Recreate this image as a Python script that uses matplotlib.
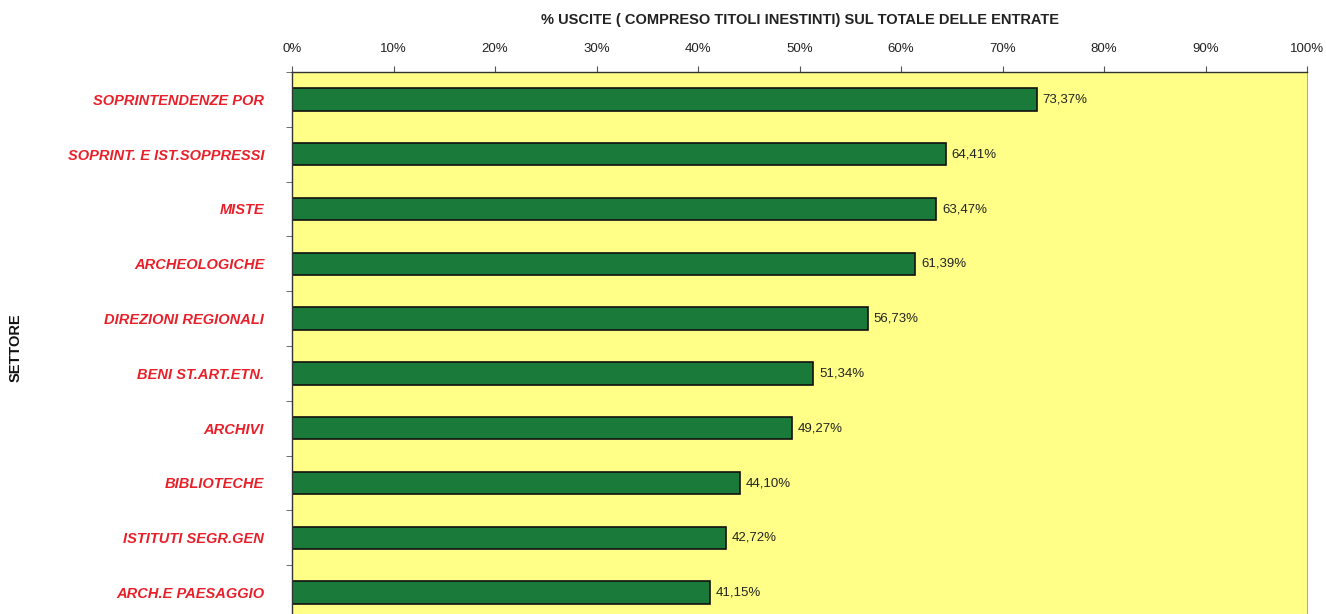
import matplotlib.pyplot as plt
import numpy as np

settori = ["SOPRINTENDENZE POR", "SOPRINT. E IST.SOPPRESSI", "MISTE", "ARCHEOLOGICHE",
           "DIREZIONI REGIONALI", "BENI ST.ART.ETN.", "ARCHIVI", "BIBLIOTECHE",
           "ISTITUTI SEGR.GEN", "ARCH.E PAESAGGIO"]
percentuali = [73.37, 64.41, 63.47, 61.39, 56.73, 51.34, 49.27, 44.10, 42.72, 41.15]
tick_valori = [0, 10, 20, 30, 40, 50, 60, 70, 80, 90, 100]

plt.rcParams['font.family'] = ['Liberation Sans', 'DejaVu Sans']

fig = plt.figure(figsize=(13.26, 6.14), dpi=100, facecolor="#FFFFFF")
ax = fig.add_axes([292/1326, 1 - 620/614, (1307-292)/1326, 548/614])
ax.set_facecolor("#FFFF88")

y = np.arange(len(settori))
ax.barh(y, percentuali, height=0.41, color="#197A3A", edgecolor="#111111", linewidth=1.2)

for yi, v in zip(y, percentuali):
    ax.text(v + 0.6, yi, ("%.2f" % v).replace(".", ",") + "%", va="center", ha="left",
            fontsize=9.5, color="#222222")

ax.set_xlim(0, 100)
ax.set_ylim(len(settori) - 0.5, -0.5)

ax.xaxis.tick_top()
ax.set_xticks(tick_valori)
ax.set_xticklabels([f"{t}%" for t in tick_valori], fontsize=9.5, color="#222222")
ax.tick_params(axis='x', length=4, pad=8, color="#555555")

ax.set_yticks(y)
ax.set_yticklabels(settori, fontsize=10.5, fontweight="bold", fontstyle="italic", color="#E8202A")
ax.tick_params(axis='y', length=0, pad=20)
ax.set_yticks(np.arange(-0.5, len(settori), 1), minor=True)
ax.tick_params(axis='y', which='minor', length=4, color="#555555")

for s in ["top", "left"]:
    ax.spines[s].set_color("#333333")
    ax.spines[s].set_linewidth(1.0)
ax.spines["right"].set_color("#AAAAAA")
ax.spines["bottom"].set_visible(False)

fig.text(800/1326, 1 - 20/614, "% USCITE ( COMPRESO TITOLI INESTINTI) SUL TOTALE DELLE ENTRATE",
         ha="center", va="center", fontsize=10.5, fontweight="bold", color="#222222")
fig.text(16/1326, 1 - 348/614, "SETTORE", rotation=90, ha="center", va="center",
         fontsize=10.5, fontweight="heavy", color="#111111")

fig.savefig("out.png", dpi=100)
